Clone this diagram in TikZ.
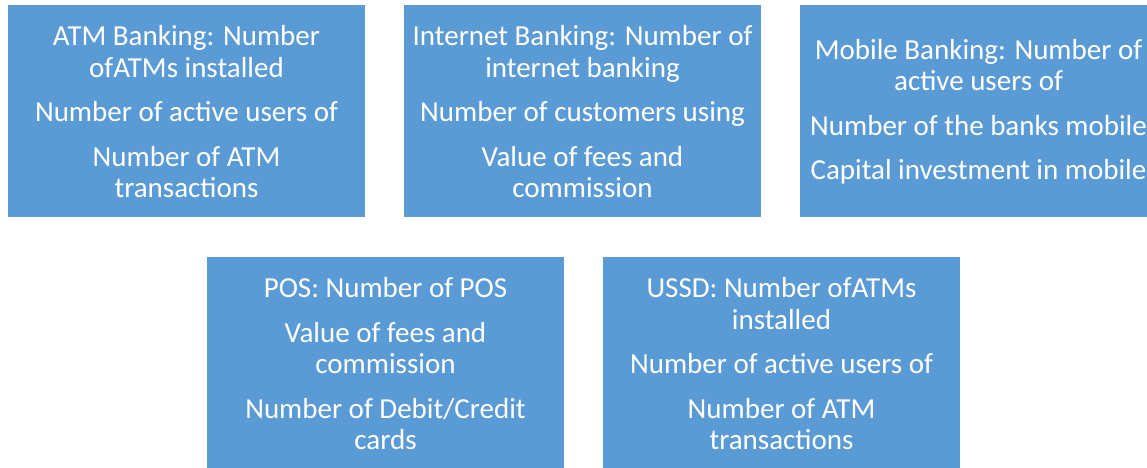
\documentclass[tikz,border=0pt]{standalone}
\usepackage{fontspec}
\setmainfont{Carlito}
\definecolor{accent}{HTML}{5B9BD5}
\begin{document}
\begin{tikzpicture}[x=1pt,y=-1pt,
  card/.style={fill=accent,draw=none,minimum width=357pt,minimum height=212pt,inner sep=0pt,outer sep=0pt,anchor=north west},
  cardtext/.style={text=white,align=center,inner sep=0pt,font=\fontsize{29}{31.5}\selectfont}]
\useasboundingbox (0,0) rectangle (1147,467);
\begin{scope}
\clip (0,0) rectangle (1147,467);
\node[card] (atm) at (8,5) {};
\node[card] (inet) at (404,5) {};
\node[card] (mob) at (800,5) {};
\node[card] (pos) at (207,257) {};
\node[card] (ussd) at (603,257) {};

\node[cardtext] (atmt) at ([yshift=-1pt]atm.center) {ATM Banking: Number\\ofATMs installed\\[13pt]Number of active users of\\[13pt]Number of ATM\\transactions};
\node[cardtext] (inett) at ([yshift=-1pt]inet.center) {Internet Banking: Number of\\internet banking\\[13pt]Number of customers using\\[13pt]Value of fees and\\commission};
\node[cardtext] (mobt) at ([yshift=-1pt]mob.center) {Mobile Banking: Number of\\active users of\\[13pt]Number of the banks mobile\\[13pt]Capital investment in mobile};
\node[cardtext] (post) at ([yshift=-1pt]pos.center) {POS: Number of POS\\[13pt]Value of fees and\\commission\\[13pt]Number of Debit/Credit\\cards};
\node[cardtext] (ussdt) at ([yshift=-1pt]ussd.center) {USSD: Number ofATMs\\installed\\[13pt]Number of active users of\\[13pt]Number of ATM\\transactions};
\end{scope}
\end{tikzpicture}
\end{document}
